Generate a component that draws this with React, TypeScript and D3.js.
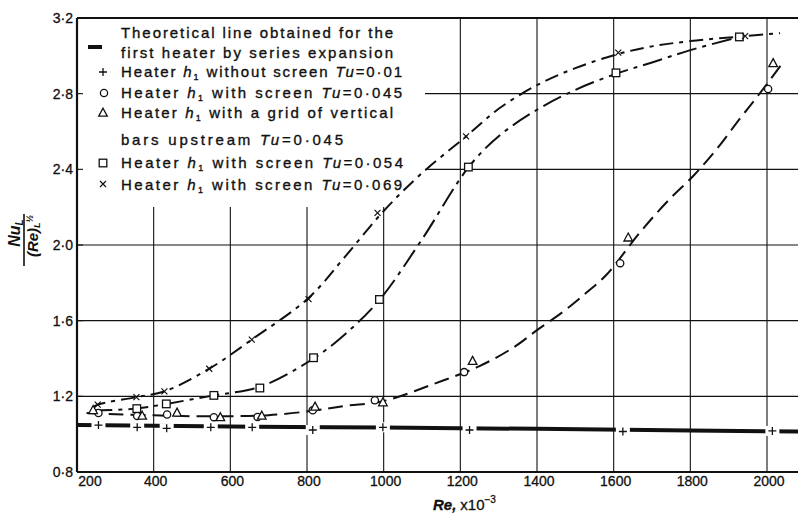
import React from 'react';
import * as d3 from 'd3';

const xTickValues = [200, 400, 600, 800, 1000, 1200, 1400, 1600, 1800, 2000];
const xTickLabels = ['200', '400', '600', '800', '1000', '1200', '1400', '1600', '1800', '2000'];
const yTickValues = [0.8, 1.2, 1.6, 2.0, 2.4, 2.8, 3.2];
const yTickLabels = ['0·8', '1·2', '1·6', '2·0', '2·4', '2·8', '3·2'];

// Theoretical line (series expansion)
const theoryRe = [200, 600, 1000, 1400, 1800, 2100];
const theoryNu = [1.048, 1.04, 1.035, 1.028, 1.02, 1.013];

// Heater h1 without screen Tu=0.01 (+)
const plusRe = [256, 357, 434, 549, 657, 815, 998, 1224, 1624, 2014];
const plusNu = [1.048, 1.036, 1.031, 1.036, 1.036, 1.022, 1.036, 1.022, 1.014, 1.017];

// Heater h1 with screen Tu=0.045 (o)
const circRe = [256, 357, 435, 557, 671, 815, 977, 1210, 1617, 2003];
const circNu = [1.112, 1.096, 1.104, 1.09, 1.091, 1.126, 1.179, 1.328, 1.904, 2.825];

// Heater h1 with grid of vertical bars Tu=0.045 (triangle)
const triRe = [242, 370, 461, 574, 682, 821, 998, 1232, 1638, 2016];
const triNu = [1.126, 1.096, 1.112, 1.088, 1.096, 1.144, 1.167, 1.386, 2.038, 2.96];

// Heater h1 with screen Tu=0.054 (square)
const sqRe = [356, 433, 557, 677, 817, 989, 1221, 1606, 1928];
const sqNu = [1.135, 1.16, 1.205, 1.244, 1.404, 1.712, 2.412, 2.91, 3.1];

// Heater h1 with screen Tu=0.069 (x)
const crossRe = [254, 355, 428, 545, 656, 804, 984, 1215, 1612, 1943];
const crossNu = [1.156, 1.196, 1.226, 1.346, 1.5, 1.714, 2.17, 2.574, 3.017, 3.104];

// Faired curves
const curve045Re = [225, 300, 400, 500, 600, 700, 820, 900, 1000, 1130, 1250, 1340, 1400, 1470, 1530, 1580, 1670, 1740, 1810, 1870, 1930, 1975, 2040];
const curve045Nu = [1.112, 1.105, 1.1, 1.095, 1.095, 1.1, 1.125, 1.15, 1.175, 1.265, 1.36, 1.46, 1.55, 1.65, 1.75, 1.84, 2.07, 2.23, 2.37, 2.51, 2.67, 2.785, 2.96];

const curve054Re = [240, 356, 433, 557, 677, 817, 900, 989, 1100, 1221, 1300, 1400, 1500, 1606, 1700, 1800, 1928];
const curve054Nu = [1.125, 1.135, 1.16, 1.205, 1.25, 1.4, 1.53, 1.71, 2.03, 2.41, 2.575, 2.715, 2.82, 2.905, 2.965, 3.03, 3.1];

const curve069Re = [240, 254, 355, 428, 545, 656, 804, 900, 1000, 1100, 1215, 1300, 1400, 1500, 1612, 1700, 1800, 1943, 2034];
const curve069Nu = [1.14, 1.156, 1.196, 1.226, 1.346, 1.5, 1.72, 1.94, 2.18, 2.38, 2.574, 2.72, 2.845, 2.935, 3.01, 3.05, 3.078, 3.104, 3.12];

const W = 798;
const H = 515;
const FONT = "'Liberation Sans', Arial, sans-serif";

const x = d3.scaleLinear().domain([200, 2000]).range([77, 767]);
const y = d3.scaleLinear().domain([0.8, 3.2]).range([472, 18]);
const xRight = x.invert(W);

const zip = (a: number[], b: number[]) => a.map((v, i) => [v, b[i]] as [number, number]);
const line = d3
  .line<[number, number]>()
  .x((d) => x(d[0]))
  .y((d) => y(d[1]))
  .curve(d3.curveCatmullRom.alpha(0.5));
const straight = d3
  .line<[number, number]>()
  .x((d) => x(d[0]))
  .y((d) => y(d[1]))
  .curve(d3.curveMonotoneX);

const INK = '#111';

function Marker({ type, cx, cy }: { type: string; cx: number; cy: number }) {
  const sw = 1.3;
  if (type === 'plus')
    return <path d={`M${cx - 4},${cy}H${cx + 4}M${cx},${cy - 4}V${cy + 4}`} stroke={INK} strokeWidth={sw} fill="none" />;
  if (type === 'circle') return <circle cx={cx} cy={cy} r={3.6} fill="#fff" stroke={INK} strokeWidth={sw} />;
  if (type === 'square') return <rect x={cx - 3.8} y={cy - 3.8} width={7.6} height={7.6} fill="#fff" stroke={INK} strokeWidth={sw} />;
  if (type === 'tri')
    return <polygon points={`${cx},${cy - 4.8} ${cx + 4.3},${cy + 3.2} ${cx - 4.3},${cy + 3.2}`} fill="#fff" stroke={INK} strokeWidth={sw} />;
  return <path d={`M${cx - 3},${cy - 3}L${cx + 3},${cy + 3}M${cx + 3},${cy - 3}L${cx - 3},${cy + 3}`} stroke={INK} strokeWidth={1.2} fill="none" />;
}

type Seg = { t: string; i?: boolean; sub?: boolean };

function LegendRow({ segs, yb, len }: { segs: Seg[]; yb: number; len: number }) {
  return (
    <text
      x={121}
      y={yb}
      fontFamily={FONT}
      fontSize={15}
      fill={INK}
      stroke={INK}
      strokeWidth={0.35}
      textLength={len}
      lengthAdjust="spacing"
    >
      {segs.map((s, k) =>
        s.sub ? (
          <tspan key={k} fontSize={9} dy={3}>
            {s.t}
          </tspan>
        ) : (
          <tspan key={k} fontStyle={s.i ? 'italic' : 'normal'} dy={k > 0 && segs[k - 1].sub ? -3 : 0}>
            {s.t}
          </tspan>
        )
      )}
    </text>
  );
}

const h1: Seg[] = [{ t: 'h', i: true }, { t: '1', sub: true }];

export default function App() {
  const gridV = xTickValues.slice(1).map((v) => ({ v, top: v <= 1000 ? 207 : y(3.2) }));
  const gridH = [1.2, 1.6, 2.0, 2.4, 2.8].map((v) => ({ v, left: v >= 2.4 ? 425 : x(200) }));
  return (
    <svg width={W} height={H} style={{ position: 'absolute', left: 0, top: 0, background: '#fff' }}>
      <rect x={0} y={0} width={W} height={H} fill="#fff" />
      {/* grid */}
      {gridV.map((g) => (
        <line key={'v' + g.v} x1={x(g.v)} x2={x(g.v)} y1={g.top} y2={y(0.8)} stroke={INK} strokeWidth={1.1} />
      ))}
      {gridH.map((g) => (
        <line key={'h' + g.v} x1={g.left} x2={W} y1={y(g.v)} y2={y(g.v)} stroke={INK} strokeWidth={1.1} />
      ))}
      {/* frame */}
      <line x1={x(200)} x2={W} y1={y(3.2)} y2={y(3.2)} stroke={INK} strokeWidth={2} />
      <line x1={x(200)} x2={W} y1={y(0.8)} y2={y(0.8)} stroke={INK} strokeWidth={2.2} />
      <line x1={x(200)} x2={x(200)} y1={y(3.2)} y2={y(0.8)} stroke={INK} strokeWidth={2.2} />
      {yTickValues.map((v) => (
        <line key={'yt' + v} x1={x(200)} x2={x(200) + 6} y1={y(v)} y2={y(v)} stroke={INK} strokeWidth={1.1} />
      ))}
      {/* tick labels */}
      {yTickValues.map((v, i) => (
        <text key={'yl' + v} x={73} y={y(v) + 5} textAnchor="end" fontFamily={FONT} fontSize={14} fill={INK} stroke={INK} strokeWidth={0.3}>
          {yTickLabels[i]}
        </text>
      ))}
      {xTickValues.map((v, i) => (
        <text
          key={'xl' + v}
          x={i === 0 ? x(v) + 13 : x(v) + 2}
          y={486}
          textAnchor="middle"
          fontFamily={FONT}
          fontSize={14}
          fill={INK}
          stroke={INK}
          strokeWidth={0.3}
        >
          {xTickLabels[i]}
        </text>
      ))}
      {/* axis titles */}
      <text x={433} y={510} fontFamily={FONT} fontSize={15} fill={INK} stroke={INK} strokeWidth={0.3}>
        <tspan fontStyle="italic" fontWeight="bold">Re,</tspan>
        <tspan dx={4}>x</tspan>
        <tspan>10</tspan>
        <tspan fontSize={10} dy={-7}>−3</tspan>
      </text>
      <g transform="translate(24,240) rotate(-90)" fontFamily={FONT} fill={INK}>
        <text x={7} y={-4} textAnchor="middle" fontSize={16} fontWeight="bold" fontStyle="italic">
          Nu<tspan fontSize={10} dy={3}>L</tspan>
        </text>
        <line x1={-26} x2={26} y1={0} y2={0} stroke={INK} strokeWidth={1.6} />
        <text x={4} y={14} textAnchor="middle" fontSize={15} fontWeight="bold" fontStyle="italic">
          (Re)<tspan fontSize={9} dy={2}>L</tspan>
          <tspan fontSize={9} dy={-7}>½</tspan>
        </text>
      </g>
      {/* theoretical line with gaps at the + marks */}
      <path d={straight(zip(theoryRe.filter((v) => v <= xRight + 20), theoryNu)) || ''} fill="none" stroke={INK} strokeWidth={4} />
      {plusRe.map((v, i) => (
        <rect key={'gap' + i} x={x(v) - 7} y={y(plusNu[i]) - 5} width={14} height={10} fill="#fff" />
      ))}
      {/* faired curves */}
      <path d={line(zip(curve045Re, curve045Nu)) || ''} fill="none" stroke={INK} strokeWidth={2} strokeDasharray="15 7" />
      <path d={line(zip(curve054Re, curve054Nu)) || ''} fill="none" stroke={INK} strokeWidth={2} strokeDasharray="20 6 4 6" />
      <path d={line(zip(curve069Re, curve069Nu)) || ''} fill="none" stroke={INK} strokeWidth={2} strokeDasharray="14 6 4 6" />
      {/* markers */}
      {plusRe.map((v, i) => (
        <Marker key={'p' + i} type="plus" cx={x(v)} cy={y(plusNu[i])} />
      ))}
      {circRe.map((v, i) => (
        <Marker key={'c' + i} type="circle" cx={x(v)} cy={y(circNu[i])} />
      ))}
      {triRe.map((v, i) => (
        <Marker key={'t' + i} type="tri" cx={x(v)} cy={y(triNu[i])} />
      ))}
      {sqRe.map((v, i) => (
        <Marker key={'s' + i} type="square" cx={x(v)} cy={y(sqNu[i])} />
      ))}
      {crossRe.map((v, i) => (
        <Marker key={'x' + i} type="cross" cx={x(v)} cy={y(crossNu[i])} />
      ))}
      {/* legend */}
      <line x1={88} x2={102} y1={47} y2={47} stroke={INK} strokeWidth={4} />
      <Marker type="plus" cx={103} cy={72} />
      <Marker type="circle" cx={104} cy={93} />
      <Marker type="tri" cx={103} cy={113} />
      <Marker type="square" cx={103} cy={163} />
      <Marker type="cross" cx={103} cy={184} />
      <LegendRow yb={38} len={272} segs={[{ t: 'Theoretical line obtained for the' }]} />
      <LegendRow yb={58} len={272} segs={[{ t: 'first heater by series expansion' }]} />
      <LegendRow yb={77} len={281} segs={[{ t: 'Heater ' }, ...h1, { t: ' without screen ' }, { t: 'Tu', i: true }, { t: '=0·01' }]} />
      <LegendRow yb={98} len={281} segs={[{ t: 'Heater ' }, ...h1, { t: ' with screen ' }, { t: 'Tu', i: true }, { t: '=0·045' }]} />
      <LegendRow yb={118} len={272} segs={[{ t: 'Heater ' }, ...h1, { t: ' with a grid of vertical' }]} />
      <LegendRow yb={145} len={222} segs={[{ t: 'bars upstream ' }, { t: 'Tu', i: true }, { t: '=0·045' }]} />
      <LegendRow yb={168} len={282} segs={[{ t: 'Heater ' }, ...h1, { t: ' with screen ' }, { t: 'Tu', i: true }, { t: '=0·054' }]} />
      <LegendRow yb={190} len={281} segs={[{ t: 'Heater ' }, ...h1, { t: ' with screen ' }, { t: 'Tu', i: true }, { t: '=0·069' }]} />
    </svg>
  );
}
